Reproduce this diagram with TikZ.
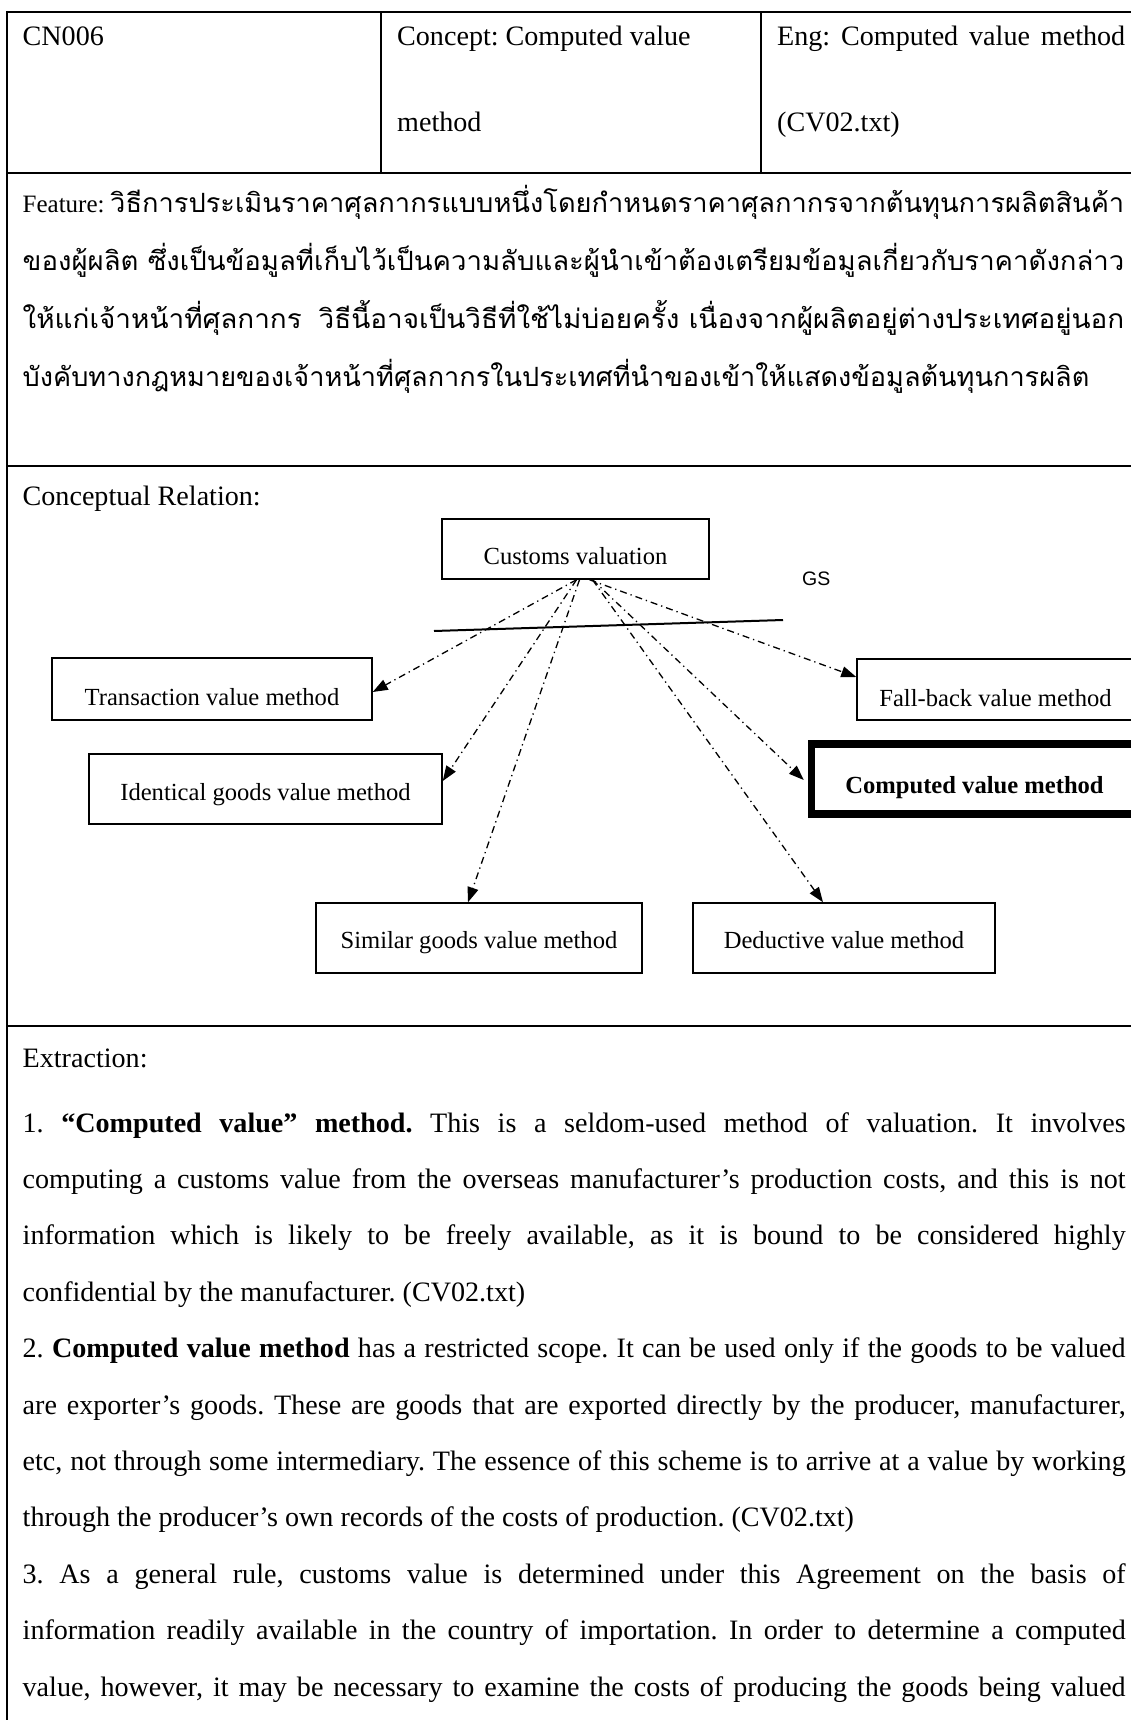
\documentclass[tikz,border=0pt]{standalone}
\usepackage{fontspec}
\usepackage{graphicx}
\setmainfont{Liberation Serif}
\newfontfamily\thaifont[Script=Thai]{Loma}
\newfontfamily\gsfont{Liberation Sans}
\usetikzlibrary{arrows.meta}

% one justified line of body text, and one line of Thai stretched to a given width
\newcommand{\jline}[1]{\hbox to 1103pt{#1}}
\newcommand{\thline}[2]{\resizebox{#1}{\height}{\thaifont\fontsize{26.5pt}{26.5pt}\selectfont #2}}

\begin{document}
\frenchspacing
\begin{tikzpicture}[x=1pt,y=-1pt,
  rule/.style={line width=2pt},
  body/.style={anchor=base west, inner sep=0pt, font=\fontsize{28.1pt}{28.1pt}\selectfont},
  cbox/.style={draw, line width=1.5pt, inner sep=0pt, text depth=0pt,
               font=\fontsize{24.6pt}{24.6pt}\selectfont},
  rel/.style={line width=1.3pt, dash pattern=on 7pt off 4pt on 1.3pt off 4pt,
              -{Triangle[length=15pt,width=11pt]}},
]
\path[use as bounding box] (0,0) rectangle (1131,1720);
\clip (0,0) rectangle (1131,1720);
\fill[white] (0,0) rectangle (1131,1720);

% table rules
\draw[rule] (6.5,12) -- (1140,12);
\draw[rule] (6.5,11) -- (6.5,1730);
\draw[rule] (381,12) -- (381,173);
\draw[rule] (761,12) -- (761,173);
\draw[rule] (6.5,173) -- (1140,173);
\draw[rule] (6.5,465.5) -- (1140,465.5);
\draw[rule] (6.5,1026) -- (1140,1026);

% header row
\node[body] (id)   at (22.5,46)  {CN006};
\node[body] (con1) at (397,46)   {Concept: Computed value};
\node[body] (con2) at (397,132)  {method};
\node[body] (eng1) at (777,46)   {\hbox to 348pt{Eng: Computed value method}};
\node[body] (eng2) at (777,132)  {(CV02.txt)};

% feature row
\node[body, font=\fontsize{25pt}{25pt}\selectfont] (feat) at (22.5,213) {Feature:};
\node[body] (th1) at (110,213)   {\thline{1014pt}{วิธีการประเมินราคาศุลกากรแบบหนึ่งโดยกำหนดราคาศุลกากรจากต้นทุนการผลิตสินค้า}};
\node[body] (th2) at (22.5,270.7) {\thline{1101.5pt}{ของผู้ผลิต ซึ่งเป็นข้อมูลที่เก็บไว้เป็นความลับและผู้นำเข้าต้องเตรียมข้อมูลเกี่ยวกับราคาดังกล่าว}};
\node[body] (th3) at (22.5,328.4) {\thline{1101.5pt}{ให้แก่เจ้าหน้าที่ศุลกากร\hspace{0.6em}วิธีนี้อาจเป็นวิธีที่ใช้ไม่บ่อยครั้ง เนื่องจากผู้ผลิตอยู่ต่างประเทศอยู่นอก}};
\node[body] (th4) at (22.5,386.1) {\thline{1066.5pt}{บังคับทางกฎหมายของเจ้าหน้าที่ศุลกากรในประเทศที่นำของเข้าให้แสดงข้อมูลต้นทุนการผลิต}};

% conceptual relation row
\node[body] (crl) at (22.5,505) {Conceptual Relation:};

\node[cbox, minimum width=267pt, minimum height=60pt, text height=30pt] (cv) at (575.5,549) {Customs valuation};
\node[anchor=base west, inner sep=0pt, font=\gsfont\fontsize{19.5pt}{19.5pt}\selectfont] (gs) at (802,585) {GS};

\coordinate (lnA) at (434,631);
\coordinate (lnB) at (783,620);
\draw[line width=2pt] (lnA) -- (lnB);

\node[cbox, minimum width=320pt, minimum height=62pt, text height=32pt] (tv) at (212,689) {Transaction value method};
\node[cbox, minimum width=277pt, minimum height=61pt, text height=33pt] (fb) at (995.5,689.5) {Fall-back value method};
\node[cbox, minimum width=353pt, minimum height=70pt, text height=22pt] (iv) at (265.5,789) {Identical goods value method};
\node[cbox, line width=7.5pt, minimum width=326pt, minimum height=70pt, text height=28pt,
      font=\fontsize{24.6pt}{24.6pt}\selectfont\bfseries] (cm) at (974.5,779) {Computed value method};
\node[cbox, minimum width=326pt, minimum height=70pt, text height=20pt] (sg) at (479,938) {Similar goods value method};
\node[cbox, minimum width=302pt, minimum height=70pt, text height=20pt] (dv) at (844,938) {Deductive value method};

\draw[rel] ([xshift=1pt]cv.south)  -- ([yshift=-3pt]tv.east);
\draw[rel] ([xshift=1pt]cv.south)  -- ([yshift=8pt]iv.east);
\draw[rel] ([xshift=4pt]cv.south)  -- ([xshift=-11pt]sg.north);
\draw[rel] ([xshift=17pt]cv.south) -- ([xshift=-21pt]dv.north);
\draw[rel] ([xshift=17pt]cv.south) -- ([xshift=-4pt,yshift=-1pt]cm.west);
\draw[rel] ([xshift=14pt]cv.south) -- ([yshift=12.5pt]fb.west);

% extraction row
\node[body] (ext) at (22.5,1067) {Extraction:};
\node[body] (e1)  at (22.5,1132)   {\jline{1. \textbf{“Computed value” method.} This is a seldom-used method of valuation. It involves}};
\node[body] (e2)  at (22.5,1188.4) {\jline{computing a customs value from the overseas manufacturer’s production costs, and this is not}};
\node[body] (e3)  at (22.5,1244.8) {\jline{information which is likely to be freely available, as it is bound to be considered highly}};
\node[body] (e4)  at (22.5,1301.2) {confidential by the manufacturer. (CV02.txt)};
\node[body] (e5)  at (22.5,1357.6) {\jline{2. \textbf{Computed value method} has a restricted scope. It can be used only if the goods to be valued}};
\node[body] (e6)  at (22.5,1414)   {\jline{are exporter’s goods. These are goods that are exported directly by the producer, manufacturer,}};
\node[body] (e7)  at (22.5,1470.4) {\jline{etc, not through some intermediary. The essence of this scheme is to arrive at a value by working}};
\node[body] (e8)  at (22.5,1526.8) {through the producer’s own records of the costs of production. (CV02.txt)};
\node[body] (e9)  at (22.5,1583.2) {\jline{3. As a general rule, customs value is determined under this Agreement on the basis of}};
\node[body] (e10) at (22.5,1639.6) {\jline{information readily available in the country of importation. In order to determine a computed}};
\node[body] (e11) at (22.5,1696)   {\jline{value, however, it may be necessary to examine the costs of producing the goods being valued}};
\end{tikzpicture}
\end{document}
